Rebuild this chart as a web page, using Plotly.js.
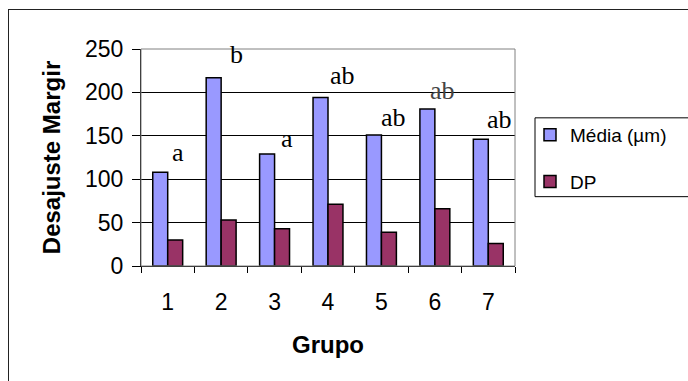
<!DOCTYPE html>
<html>
<head>
<meta charset="utf-8">
<script src="https://cdn.plot.ly/plotly-3.0.1.min.js"></script>
<style>
html,body{margin:0;padding:0;background:#fff;overflow:hidden;}
#frame{position:absolute;left:8px;top:9px;width:720px;height:420px;border:1.5px solid #222;box-sizing:border-box;}
#chart{position:absolute;left:0;top:0;width:688px;height:381px;}
</style>
</head>
<body>
<div id="frame"></div>
<div id="chart"></div>
<script>
const grupos = ["1", "2", "3", "4", "5", "6", "7"];
const media = [108, 217, 129, 194, 151, 181, 146];
const dp = [30, 53, 43, 71, 39, 66, 26];
const letras = ["a", "b", "a", "ab", "ab", "ab", "ab"];

// label placement (pixels) relative to the top of the Média bar
const labelDx = [10, 15, 12, 14, 12, 8, 11];
const labelDy = [3, 7, -1, 6, 1, 2, 3];
const labelColor = ["#000", "#000", "#000", "#000", "#000", "#444", "#000"];

const L = 141, R = 515, T = 49, B = 266.5, W = 688, H = 381;
const pw = R - L, ph = B - T;

const traces = [
  {type: "bar", name: "Média (µm)", x: grupos, y: media,
   marker: {color: "#9999FF", line: {color: "#000", width: 1.5}}, legendgroup: "g1"},
  {type: "bar", name: "DP", x: grupos, y: dp,
   marker: {color: "#993366", line: {color: "#000", width: 1.5}}, legendgroup: "g2"}
];

const annotations = letras.map((t, i) => ({
  x: i, y: media[i], xref: "x", yref: "y", text: t, showarrow: false,
  xanchor: "center", yanchor: "bottom", xshift: labelDx[i], yshift: labelDy[i],
  font: {family: "Liberation Serif, Times New Roman, serif", size: 26, color: labelColor[i]}
}));

const layout = {
  width: W, height: H,
  margin: {l: L, r: W - R, t: T, b: H - B, pad: 0},
  paper_bgcolor: "rgba(0,0,0,0)", plot_bgcolor: "rgba(0,0,0,0)",
  barmode: "group", bargap: 0.44, bargroupgap: 0,
  showlegend: true,
  font: {family: "Liberation Sans, Arial, sans-serif", color: "#000"},
  xaxis: {
    type: "category", tickson: "boundaries", ticks: "outside", ticklen: 6, tickcolor: "#000", tickwidth: 1,
    showline: true, linecolor: "#000", linewidth: 1, showgrid: false,
    tickfont: {size: 23}, ticklabelstandoff: 15,
    title: {text: "Grupo", font: {size: 24, weight: "bold"}, standoff: 22}
  },
  yaxis: {
    range: [0, 250], dtick: 50, tick0: 0, ticks: "outside", ticklen: 8, tickcolor: "#000", tickwidth: 1,
    showline: true, linecolor: "#000", linewidth: 1,
    showgrid: true, gridcolor: "#000", gridwidth: 1, zeroline: false,
    tickfont: {size: 23}, ticklabelstandoff: 4,
    title: {text: "Desajuste Margir", font: {size: 24, weight: "bold"}, standoff: 17}
  },
  legend: {
    x: (530 - L) / pw, xanchor: "left", y: (B - 116) / ph, yanchor: "top",
    traceorder: "grouped", tracegroupgap: 19,
    font: {size: 19}, bgcolor: "rgba(0,0,0,0)", borderwidth: 0
  },
  shapes: [
    {type: "rect", xref: "paper", yref: "paper", x0: 0, x1: 1, y0: 0, y1: 1,
     line: {color: "#808080", width: 1}, fillcolor: "rgba(0,0,0,0)", layer: "above"},
    {type: "rect", xref: "paper", yref: "paper", x0: (535 - L) / pw, x1: (720 - L) / pw,
     y0: (B - 197) / ph, y1: (B - 118) / ph, line: {color: "#000", width: 1}, fillcolor: "rgba(0,0,0,0)"}
  ],
  annotations: annotations
};

Plotly.newPlot("chart", traces, layout, {displayModeBar: false, staticPlot: true});
</script>
</body>
</html>
